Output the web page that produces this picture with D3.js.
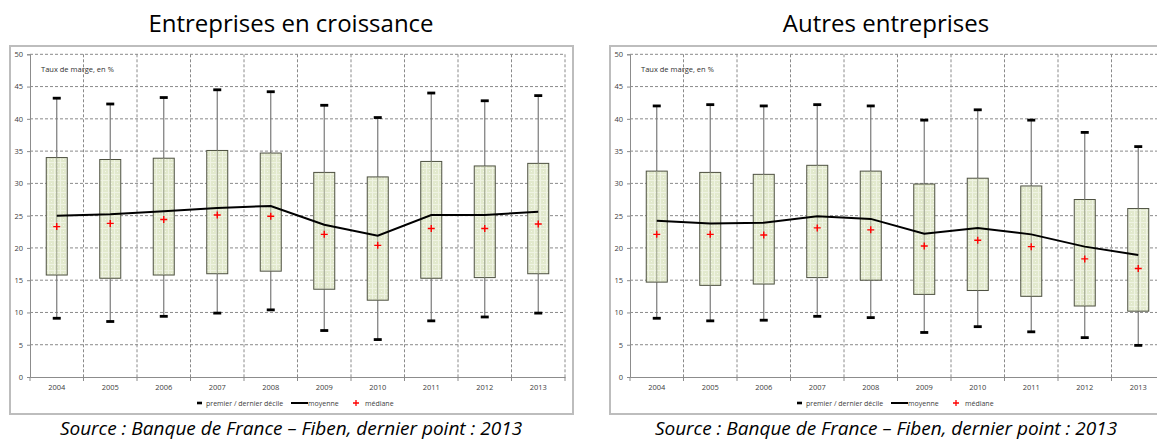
<!DOCTYPE html>
<html>
<head>
<meta charset="utf-8">
<script src="https://cdn.jsdelivr.net/npm/d3@7"></script>
<style>
  html, body { margin: 0; padding: 0; background: #ffffff; }
  svg { display: block; }
</style>
</head>
<body>
<svg id="chart" width="1157" height="441"></svg>
<script>
// Years on the x axis
const years = ["2004", "2005", "2006", "2007", "2008", "2009", "2010", "2011", "2012", "2013"];
const yTicks = [0, 5, 10, 15, 20, 25, 30, 35, 40, 45, 50];

// Entreprises en croissance — taux de marge, en %
const growthD9     = [43.2, 42.3, 43.3, 44.5, 44.2, 42.1, 40.2, 44.0, 42.8, 43.6];
const growthQ3     = [34.0, 33.7, 33.9, 35.1, 34.7, 31.7, 31.0, 33.4, 32.7, 33.1];
const growthMean   = [25.0, 25.2, 25.7, 26.2, 26.5, 23.6, 21.9, 25.1, 25.1, 25.6];
const growthMedian = [23.3, 23.8, 24.4, 25.1, 24.9, 22.1, 20.4, 23.0, 23.0, 23.7];
const growthQ1     = [15.8, 15.3, 15.8, 16.0, 16.4, 13.6, 11.9, 15.3, 15.4, 16.0];
const growthD1     = [9.1, 8.6, 9.4, 9.9, 10.4, 7.2, 5.8, 8.7, 9.3, 9.9];

// Autres entreprises — taux de marge, en %
const otherD9     = [42.0, 42.2, 42.0, 42.2, 42.0, 39.8, 41.4, 39.8, 37.9, 35.7];
const otherQ3     = [31.9, 31.7, 31.4, 32.8, 31.9, 29.9, 30.8, 29.6, 27.5, 26.1];
const otherMean   = [24.2, 23.8, 23.9, 24.9, 24.5, 22.2, 23.1, 22.1, 20.2, 18.9];
const otherMedian = [22.1, 22.1, 22.0, 23.1, 22.8, 20.3, 21.2, 20.2, 18.3, 16.8];
const otherQ1     = [14.7, 14.2, 14.4, 15.4, 15.0, 12.8, 13.4, 12.5, 11.0, 10.2];
const otherD1     = [9.1, 8.7, 8.8, 9.4, 9.2, 6.9, 7.8, 7.0, 6.1, 4.9];

const panelTitles = ["Entreprises en croissance", "Autres entreprises"];
const unitLabel = "Taux de marge, en %";
const legendLabels = ["premier / dernier décile", "moyenne", "médiane"];
const sourceText = "Source : Banque de France \u2013 Fiben, dernier point : 2013";

const svg = d3.select("#chart");
const FONT = "'Open Sans', 'DejaVu Sans', sans-serif";

// Fine light grid texture for the interquartile boxes
const defs = svg.append("defs");
const pat = defs.append("pattern")
  .attr("id", "boxfill")
  .attr("patternUnits", "userSpaceOnUse")
  .attr("width", 6).attr("height", 6);
pat.append("rect").attr("width", 6).attr("height", 6).attr("fill", "#e2e9cd");
pat.append("path").attr("d", "M0,0.5H6M0.5,0V6")
  .attr("stroke", "#eff3e3").attr("stroke-width", 1).attr("fill", "none");
pat.append("rect").attr("x", 3).attr("y", 3).attr("width", 1).attr("height", 1).attr("fill", "#f4f7ec");

function drawPanel(cfg) {
  const { frame, plot, title, titleX, data } = cfg;
  const g = svg.append("g");

  // Title above the frame
  g.append("text")
    .attr("x", titleX).attr("y", 32)
    .attr("text-anchor", "middle")
    .attr("font-family", FONT).attr("font-size", 24)
    .attr("fill", "#000")
    .text(title);

  // Frame
  g.append("rect")
    .attr("x", frame.x).attr("y", frame.y)
    .attr("width", frame.w).attr("height", frame.h)
    .attr("fill", "#fff").attr("stroke", "#bdbdbd").attr("stroke-width", 2);

  const x = d3.scaleBand().domain(years).range([plot.x0, plot.x1]).padding(0);
  const y = d3.scaleLinear().domain([0, 50]).range([plot.y0, plot.y1]);

  // Horizontal dashed gridlines
  g.append("g").selectAll("line")
    .data(yTicks.filter(v => v > 0))
    .join("line")
    .attr("x1", plot.x0).attr("x2", plot.x1)
    .attr("y1", d => y(d)).attr("y2", d => y(d))
    .attr("stroke", "#8a8a8a").attr("stroke-width", 1)
    .attr("stroke-dasharray", "3,2");

  // Vertical dashed gridlines at category boundaries
  const bounds = years.slice(1).map(d => x(d)).concat([plot.x1]);
  g.append("g").selectAll("line")
    .data(bounds)
    .join("line")
    .attr("x1", d => d).attr("x2", d => d)
    .attr("y1", plot.y1).attr("y2", plot.y0)
    .attr("stroke", "#8a8a8a").attr("stroke-width", 1)
    .attr("stroke-dasharray", "3,2");

  // Y axis
  const yAxis = g.append("g")
    .attr("transform", `translate(${plot.x0},0)`)
    .call(d3.axisLeft(y).tickValues(yTicks).tickSize(3).tickPadding(4));
  yAxis.select(".domain").attr("stroke", "#8c8c8c");
  yAxis.selectAll(".tick line").attr("stroke", "#8c8c8c");
  yAxis.selectAll("text")
    .attr("font-family", FONT).attr("font-size", 7.5).attr("fill", "#404040");

  // X axis
  const xAxis = g.append("g")
    .attr("transform", `translate(0,${plot.y0})`)
    .call(d3.axisBottom(x).tickSize(0).tickPadding(8));
  xAxis.select(".domain").attr("stroke", "#8c8c8c");
  xAxis.selectAll("text")
    .attr("font-family", FONT).attr("font-size", 7.5).attr("fill", "#404040");
  g.append("g").selectAll("line")
    .data([plot.x0].concat(bounds))
    .join("line")
    .attr("x1", d => d).attr("x2", d => d)
    .attr("y1", plot.y0).attr("y2", plot.y0 + 4)
    .attr("stroke", "#8c8c8c");

  // Unit label
  g.append("text")
    .attr("x", plot.x0 + 11).attr("y", 72)
    .attr("font-family", FONT).attr("font-size", 7.5).attr("fill", "#303030")
    .text(unitLabel);

  const rows = years.map((yr, i) => ({
    yr, d9: data.d9[i], q3: data.q3[i], mean: data.mean[i],
    median: data.median[i], q1: data.q1[i], d1: data.d1[i]
  }));
  const cx = d => x(d.yr) + x.bandwidth() / 2;
  const boxW = 21;

  // Whisker lines from first to last decile (drawn behind boxes)
  g.append("g").selectAll("line")
    .data(rows).join("line")
    .attr("x1", cx).attr("x2", cx)
    .attr("y1", d => y(d.d9)).attr("y2", d => y(d.d1))
    .attr("stroke", "#7a7a7a").attr("stroke-width", 1.2);

  // Interquartile boxes
  g.append("g").selectAll("rect")
    .data(rows).join("rect")
    .attr("x", d => cx(d) - boxW / 2)
    .attr("y", d => y(d.q3))
    .attr("width", boxW)
    .attr("height", d => y(d.q1) - y(d.q3))
    .attr("fill", "url(#boxfill)")
    .attr("stroke", "#4d5040").attr("stroke-width", 1);

  // Whisker line visible through the box
  g.append("g").selectAll("line")
    .data(rows).join("line")
    .attr("x1", cx).attr("x2", cx)
    .attr("y1", d => y(d.q3)).attr("y2", d => y(d.q1))
    .attr("stroke", "#9a9f8a").attr("stroke-width", 1);

  // Decile caps
  g.append("g").selectAll("rect")
    .data(rows.flatMap(d => [{ yr: d.yr, v: d.d9 }, { yr: d.yr, v: d.d1 }]))
    .join("rect")
    .attr("x", d => cx(d) - 4)
    .attr("y", d => y(d.v) - 1.4)
    .attr("width", 8).attr("height", 2.8)
    .attr("fill", "#000");

  // Mean line
  g.append("path")
    .datum(rows)
    .attr("d", d3.line().x(cx).y(d => y(d.mean)))
    .attr("fill", "none").attr("stroke", "#000").attr("stroke-width", 2);

  // Median crosses
  g.append("g").selectAll("path")
    .data(rows).join("path")
    .attr("d", d => {
      const px = cx(d), py = y(d.median), s = 3.5;
      return `M${px - s},${py}H${px + s}M${px},${py - s}V${py + s}`;
    })
    .attr("stroke", "#ff0000").attr("stroke-width", 1.4).attr("fill", "none");

  // Legend
  const ly = 403;
  const lg = g.append("g");
  lg.append("rect")
    .attr("x", cfg.legendX).attr("y", ly - 1.3)
    .attr("width", 5).attr("height", 2.6).attr("fill", "#000");
  lg.append("text")
    .attr("x", cfg.legendX + 9).attr("y", ly + 2.5)
    .attr("font-family", FONT).attr("font-size", 7).attr("fill", "#404040")
    .text(legendLabels[0]);
  lg.append("line")
    .attr("x1", cfg.legendX + 94).attr("x2", cfg.legendX + 111)
    .attr("y1", ly).attr("y2", ly)
    .attr("stroke", "#000").attr("stroke-width", 2);
  lg.append("text")
    .attr("x", cfg.legendX + 111).attr("y", ly + 2.5)
    .attr("font-family", FONT).attr("font-size", 7).attr("fill", "#404040")
    .text(legendLabels[1]);
  lg.append("path")
    .attr("d", `M${cfg.legendX + 156},${ly}h6M${cfg.legendX + 159},${ly - 3}v6`)
    .attr("stroke", "#ff0000").attr("stroke-width", 1.3);
  lg.append("text")
    .attr("x", cfg.legendX + 168).attr("y", ly + 2.5)
    .attr("font-family", FONT).attr("font-size", 7).attr("fill", "#404040")
    .text(legendLabels[2]);

  // Source line
  g.append("text")
    .attr("x", titleX).attr("y", 435)
    .attr("text-anchor", "middle")
    .attr("font-family", FONT).attr("font-size", 19).attr("font-style", "italic")
    .attr("fill", "#000")
    .text(sourceText);
}

drawPanel({
  frame: { x: 10, y: 46, w: 563, h: 368 },
  plot: { x0: 30, x1: 565, y0: 377, y1: 54.3 },
  title: panelTitles[0], titleX: 291,
  legendX: 197,
  data: { d9: growthD9, q3: growthQ3, mean: growthMean, median: growthMedian, q1: growthQ1, d1: growthD1 }
});

drawPanel({
  frame: { x: 610, y: 46, w: 563, h: 368 },
  plot: { x0: 630, x1: 1165, y0: 377, y1: 54.3 },
  title: panelTitles[1], titleX: 886,
  legendX: 797,
  data: { d9: otherD9, q3: otherQ3, mean: otherMean, median: otherMedian, q1: otherQ1, d1: otherD1 }
});
</script>
</body>
</html>
